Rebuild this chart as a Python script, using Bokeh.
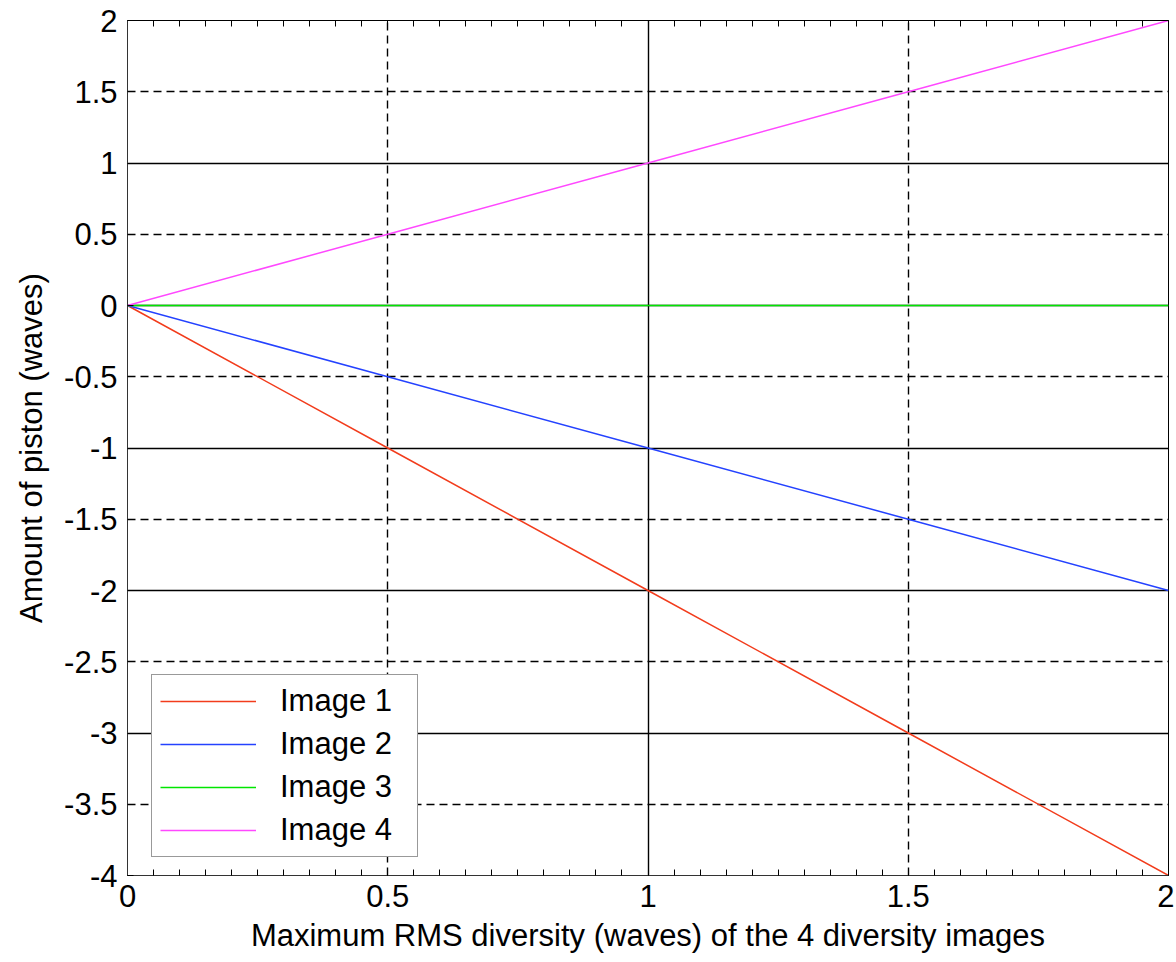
import numpy as np
from bokeh.plotting import figure
from bokeh.models import FixedTicker, Grid, LinearAxis, Range1d
from bokeh.embed import file_html
from bokeh.resources import INLINE

# ---- data ----
diversity = [0.0, 0.5, 1.0, 1.5, 2.0]
image1 = [0.0, -1.0, -2.0, -3.0, -4.0]
image2 = [0.0, -0.5, -1.0, -1.5, -2.0]
image3 = [0.0, 0.0, 0.0, 0.0, 0.0]
image4 = [0.0, 0.5, 1.0, 1.5, 2.0]
series_names = ["Image 1", "Image 2", "Image 3", "Image 4"]
series_colors = ["#f23c1c", "#2442ff", "#00e600", "#ff48ff"]

x_ticks = [0, 0.5, 1, 1.5, 2]
y_ticks = [-4, -3.5, -3, -2.5, -2, -1.5, -1, -0.5, 0, 0.5, 1, 1.5, 2]
x_solid_grid = [1]
x_dash_grid = [0.5, 1.5]
y_solid_grid = [-3, -2, -1, 0, 1]
y_dash_grid = [-3.5, -2.5, -1.5, -0.5, 0.5, 1.5]

FONT = "Liberation Sans"
FS = "31px"

p = figure(width=1174, height=962, output_backend="svg", toolbar_location=None,
           x_range=Range1d(0, 2), y_range=Range1d(-4, 2),
           min_border_left=127, min_border_right=6, min_border_top=20, min_border_bottom=87)
p.outline_line_color = "black"
p.outline_line_width = 1
p.background_fill_color = "white"
p.border_fill_color = "white"

# grids
p.xgrid.ticker = FixedTicker(ticks=x_solid_grid)
p.ygrid.ticker = FixedTicker(ticks=y_solid_grid)
for g in (p.xgrid[0], p.ygrid[0]):
    g.grid_line_color = "black"
    g.grid_line_width = 1.4
    g.grid_line_alpha = 1.0
p.add_layout(Grid(dimension=0, ticker=FixedTicker(ticks=x_dash_grid), grid_line_color="black",
                  grid_line_width=1.4, grid_line_dash="8 5"))
p.add_layout(Grid(dimension=1, ticker=FixedTicker(ticks=y_dash_grid), grid_line_color="black",
                  grid_line_width=1.4, grid_line_dash="8 5"))

# axes
minor = list(np.round(np.arange(0, 2.0001, 0.05), 3))
xa = p.xaxis[0]
xa.ticker = FixedTicker(ticks=x_ticks, minor_ticks=minor)
xa.major_label_overrides = {0: "0", 0.5: "0.5", 1: "1", 1.5: "1.5", 2: "2"}
xa.axis_label = "Maximum RMS diversity (waves) of the 4 diversity images"
ya = p.yaxis[0]
ya.ticker = FixedTicker(ticks=y_ticks)
ya.major_label_overrides = {t: ("%g" % t) for t in y_ticks}
ya.axis_label = "Amount of piston (waves)"

for ax in (xa, ya):
    ax.axis_line_color = "#333333"
    ax.major_tick_in = 6
    ax.major_tick_out = 0
    ax.minor_tick_in = 6
    ax.minor_tick_out = 0
    ax.major_tick_line_color = "black"
    ax.major_label_text_font = FONT
    ax.major_label_text_font_size = FS
    ax.major_label_text_color = "black"
    ax.major_label_text_line_height = 1.0
    ax.axis_label_text_font = FONT
    ax.axis_label_text_font_size = FS
    ax.axis_label_text_font_style = "normal"
    ax.axis_label_text_color = "black"
    ax.axis_label_text_line_height = 1.0
xa.minor_tick_line_color = "black"
ya.minor_tick_line_color = None
xa.major_label_standoff = 9
xa.axis_label_standoff = 8
ya.major_label_standoff = 10
ya.axis_label_standoff = 12

top = LinearAxis(ticker=FixedTicker(ticks=x_ticks, minor_ticks=minor),
                 major_label_overrides={t: "" for t in x_ticks},
                 major_label_text_font_size="1px", major_label_standoff=0,
                 major_tick_in=6, major_tick_out=0, minor_tick_in=6, minor_tick_out=0,
                 axis_line_color="black", major_tick_line_color="black", minor_tick_line_color="black")
p.add_layout(top, "above")

# lines
for ys, c, n in zip([image1, image2, image3, image4], series_colors, series_names):
    p.line(diversity, ys, line_color=c, line_width=1.5, legend_label=n)

lg = p.legend[0]
lg.location = (24, 18)
lg.margin = 0
lg.padding = 8
lg.spacing = 7
lg.label_text_font = FONT
lg.label_text_font_size = FS
lg.label_text_color = "black"
lg.glyph_width = 96
lg.glyph_height = 36
lg.label_height = 36
lg.label_width = 129
lg.label_standoff = 24
lg.border_line_color = "#333333"
lg.border_line_width = 1
lg.background_fill_color = "white"
lg.background_fill_alpha = 1.0

open("out.html", "w").write(file_html(p, INLINE))
